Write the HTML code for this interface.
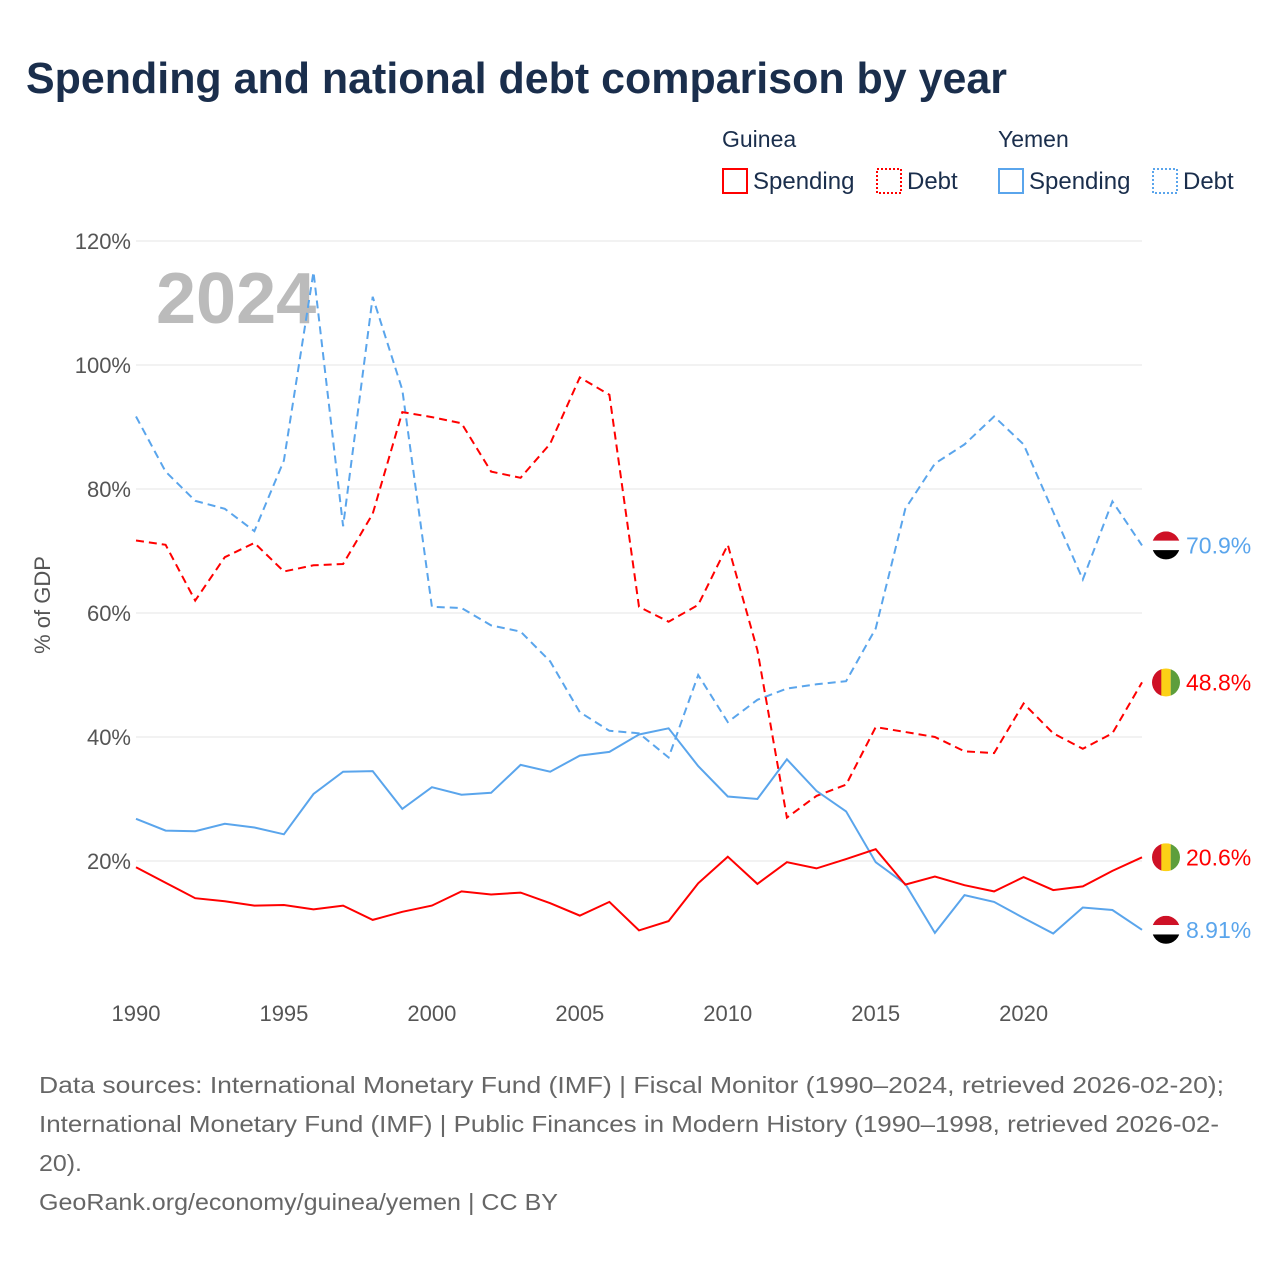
<!DOCTYPE html>
<html><head><meta charset="utf-8"><style>
body{margin:0;background:#fff;font-family:"Liberation Sans",sans-serif;}
#wrap{position:relative;width:1280px;height:1280px;overflow:hidden}
</style></head><body>
<div id="wrap">
<svg id="chart" width="1280" height="1280"></svg>
</div>
<script>
const years=[];for(let y=1990;y<=2024;y++)years.push(y);
const guineaSpending=[19,16.5,14,13.5,12.8,12.9,12.2,12.8,10.5,11.8,12.8,15.1,14.6,14.9,13.2,11.2,13.4,8.8,10.3,16.4,20.7,16.3,19.8,18.8,20.3,21.9,16.2,17.5,16.1,15.1,17.4,15.3,15.9,18.4,20.6];
const guineaDebt=[71.7,71,62,69,71.3,66.7,67.7,67.9,76,92.4,91.6,90.6,82.8,81.8,87.3,98,95.2,61,58.6,61.3,71,54,27,30.5,32.3,41.6,40.8,40,37.7,37.4,45.4,40.6,38.1,40.6,48.8];
const yemenSpending=[26.8,24.9,24.8,26,25.4,24.3,30.8,34.4,34.5,28.4,31.9,30.7,31,35.5,34.4,37,37.6,40.4,41.4,35.3,30.4,30,36.4,31.3,28,19.8,16.3,8.4,14.5,13.4,10.8,8.3,12.5,12.1,8.91];
const yemenDebt=[91.7,82.8,78.1,76.8,73.2,84.6,115,74,111,96,61,60.8,58,57,52.2,44,41,40.6,36.7,50,42.4,46,47.8,48.5,49,57.5,76.8,84.1,87.2,91.7,87.2,76.3,65.4,78,70.9];
const yTicks=[20,40,60,80,100,120];
const xTicks=[1990,1995,2000,2005,2010,2015,2020];
const NS="http://www.w3.org/2000/svg";
const svg=document.getElementById('chart');
const X=y=>136+(y-1990)*(1142-136)/34;
const Y=v=>985-v*6.2;
function el(t,a,txt){const e=document.createElementNS(NS,t);for(const k in a)e.setAttribute(k,a[k]);if(txt!=null)e.textContent=txt;svg.appendChild(e);return e;}
let e;
e=el('text',{x:26,y:93,'font-size':44,'font-weight':'bold',fill:'#1a2e4c',textLength:981,lengthAdjust:'spacingAndGlyphs'},'Spending and national debt comparison by year');


yTicks.forEach(t=>{
 e=el('line',{x1:136,x2:1142,y1:Y(t),y2:Y(t),stroke:'#e6e6e6'});
 
 
 e=el('text',{x:131,y:Y(t)+8,'text-anchor':'end','font-size':22,fill:'#555'},t+'%');
 
 
});
xTicks.forEach(t=>{
 e=el('text',{x:X(t),y:1021,'text-anchor':'middle','font-size':22,fill:'#555'},t);
 
 
});
e=el('text',{x:50,y:605,'text-anchor':'middle','font-size':22,fill:'#555',transform:'rotate(-90 50 605)'},'% of GDP');


e=el('text',{x:156,y:323,'font-size':72,'font-weight':'bold',fill:'#bbb'},'2024');


function line(arr,color,dash,name){
 const d=arr.map((v,i)=>(i?'L':'M')+X(years[i]).toFixed(1)+','+Y(v).toFixed(1)).join('');
 const p=el('path',{d:d,fill:'none',stroke:color,'stroke-width':2,'stroke-dasharray':dash?'8,5':'none'});
 
 
}
line(yemenDebt,'#5aa5ec',true,'yemen-debt-line');
line(guineaDebt,'#ff0000',true,'guinea-debt-line');
line(yemenSpending,'#5aa5ec',false,'yemen-spending-line');
line(guineaSpending,'#ff0000',false,'guinea-spending-line');
function flag(v,country,color,label){
 const cx=1166,cy=Y(v);
 const g=document.createElementNS(NS,'g');svg.appendChild(g);
 
 
 const cid='c'+Math.round(cy);
 g.innerHTML=`<clipPath id="${cid}"><circle cx="${cx}" cy="${cy}" r="14"/></clipPath>`+
 (country==='guinea'?
 `<g clip-path="url(#${cid})"><rect x="${cx-14}" y="${cy-14}" width="10" height="28" fill="#ce1126"/><rect x="${cx-4.7}" y="${cy-14}" width="9.4" height="28" fill="#fcd116"/><rect x="${cx+4.7}" y="${cy-14}" width="10" height="28" fill="#5d9e3c"/></g>`:
 `<g clip-path="url(#${cid})"><rect x="${cx-14}" y="${cy-14}" width="28" height="9.4" fill="#ce1126"/><rect x="${cx-14}" y="${cy-4.7}" width="28" height="9.4" fill="#fff"/><rect x="${cx-14}" y="${cy+4.7}" width="28" height="10" fill="#000"/></g>`);
 e=el('text',{x:1186,y:cy+8,'font-size':23,fill:color},label);
 
 
}
flag(yemenDebt[34],'yemen','#5aa5ec','70.9%');
flag(guineaDebt[34],'guinea','#ff0000','48.8%');
flag(guineaSpending[34],'guinea','#ff0000','20.6%');
flag(yemenSpending[34],'yemen','#5aa5ec','8.91%');
[['Guinea',722,'#ff0000'],['Yemen',998,'#5aa5ec']].forEach(([n,x,c])=>{
 e=el('text',{x:x,y:147,'font-size':23,fill:'#1a2e4c'},n);
 
 
 e=el('rect',{x:x+1,y:169,width:24,height:24,fill:'none',stroke:c,'stroke-width':2});
 
 
 e=el('text',{x:x+31,y:189,'font-size':24,fill:'#1a2e4c'},'Spending');
 
 
 e=el('rect',{x:x+155,y:169,width:24,height:24,fill:'none',stroke:c,'stroke-width':2,'stroke-dasharray':'2,2'});
 
 
 e=el('text',{x:x+185,y:189,'font-size':24,fill:'#1a2e4c'},'Debt');
 
 
});
const foot=['Data sources: International Monetary Fund (IMF) | Fiscal Monitor (1990–2024, retrieved 2026-02-20);','International Monetary Fund (IMF) | Public Finances in Modern History (1990–1998, retrieved 2026-02-','20).','GeoRank.org/economy/guinea/yemen | CC BY'];
const footW=[1185,1180,43,519];
foot.forEach((t,i)=>{
 e=el('text',{x:39,y:1093+i*39,'font-size':23,fill:'#666',textLength:footW[i],lengthAdjust:'spacingAndGlyphs'},t);
 
 
});
</script>
</body></html>
